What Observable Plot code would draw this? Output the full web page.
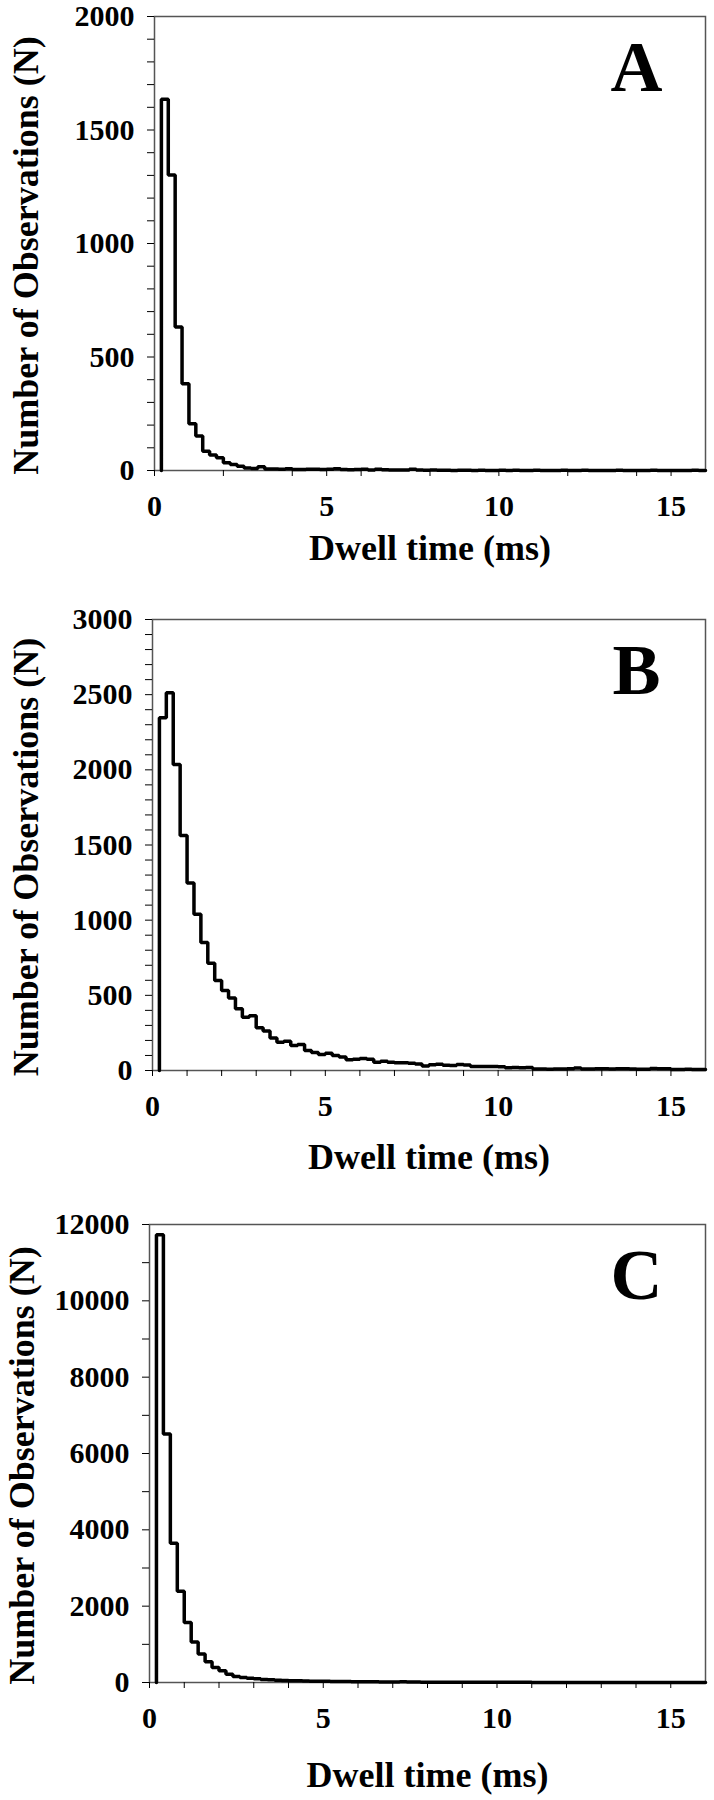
<!DOCTYPE html>
<html>
<head>
<meta charset="utf-8">
<script src="https://cdn.jsdelivr.net/npm/d3@7"></script>
<script src="https://cdn.jsdelivr.net/npm/@observablehq/plot@0.6"></script>
<style>
  body { margin: 0; background: #fff; }
  #chart svg { display: block; }
</style>
</head>
<body>
<div id="chart"></div>
<script>
// Histogram bins: 0.2 ms wide, first bin starting at 0.2 ms
const binFirst = 0.2;
const binWidth = 0.2;
const xMax = 16;

const panelLetters = ["A", "B", "C"];
const xTitle = "Dwell time (ms)";
const yTitle = "Number of Observations (N)";

const countsA = [1636,1302,632,382,206,152,85,68,56,34,
  26,19,11,9,17,7,7,6,8,4,
  4,5,5,4,5,8,4,3,4,5,
  2,5,3,2,2,2,5,2,1,2,
  1,1,0,1,1,0,1,0,0,1,
  0,1,0,0,1,0,0,0,1,0,
  0,1,0,0,0,0,1,0,0,0,
  0,1,0,0,0,0,0,1,0];

const countsB = [2346,2512,2035,1563,1248,1040,851,714,599,532,
  483,410,355,364,284,262,217,188,195,166,
  173,133,120,106,115,100,89,71,75,80,
  75,55,62,55,51,51,49,44,30,38,
  42,35,33,40,37,27,26,26,26,25,
  18,20,18,20,10,10,9,10,10,12,
  16,10,10,11,11,10,12,11,10,9,
  9,13,12,12,7,7,8,6,7];

const countsC = [11733,6513,3649,2390,1571,1060,745,545,395,306,
  218,157,131,113,96,79,70,61,52,48,
  44,39,35,32,30,28,26,24,22,20,
  18,17,16,14,13,22,11,10,9,9,
  8,8,7,7,6,6,6,5,5,5,
  4,4,4,4,3,3,3,3,3,3,
  2,2,2,2,2,2,2,2,1,1,
  1,1,1,1,1,1,1,1,1];

const yMaxes = [2000, 3000, 12000];
const yTickSteps = [100, 100, 1000];
const yLabelSteps = [500, 500, 2000];
const xTicksA = [0, 2, 4, 5, 6, 8, 10, 12, 14, 15];
const xTicksBC = [0,1,2,3,4,5,6,7,8,9,10,11,12,13,14,15];

const layouts = [
  {marginTop: 16, marginBottom: 130, marginLeft: 154, titleDy: 78, yTitleX: 26},
  {marginTop: 19, marginBottom: 130, marginLeft: 152, titleDy: 87, yTitleX: 26},
  {marginTop: 24, marginBottom: 118, marginLeft: 149, titleDy: 93, yTitleX: 22}
];

function stepPoints(counts) {
  const pts = [{t: binFirst, n: 0}];
  counts.forEach((n, i) => pts.push({t: +(binFirst + i * binWidth).toFixed(2), n}));
  pts.push({t: xMax, n: counts[counts.length - 1]});
  return pts;
}

const font = "'Liberation Serif', 'Times New Roman', Times, serif";
const allCounts = [countsA, countsB, countsC];
const container = document.getElementById("chart");

allCounts.forEach((counts, k) => {
  const L = layouts[k];
  const yTicks = d3.range(0, yMaxes[k] + 1, yTickSteps[k]);
  const xTicks = k === 0 ? xTicksA : xTicksBC;
  const plot = Plot.plot({
    width: 714,
    height: 600,
    marginTop: L.marginTop,
    marginBottom: L.marginBottom,
    marginLeft: L.marginLeft,
    marginRight: 9,
    style: {fontFamily: font, fontWeight: "bold", color: "#000", background: "#fff"},
    x: {domain: [0, xMax], label: null},
    y: {domain: [0, yMaxes[k]], label: null},
    marks: [
      Plot.frame({stroke: "#555", strokeWidth: 1.5}),
      Plot.axisY({
        ticks: yTicks, tickSize: 7, tickPadding: 13, fontSize: 30, fontWeight: "bold",
        fontFamily: font, label: null,
        tickFormat: d => (d % yLabelSteps[k] === 0 ? String(d) : "")
      }),
      Plot.axisX({
        ticks: xTicks, tickSize: 6, tickPadding: 18, fontSize: 30, fontWeight: "bold",
        fontFamily: font, label: null,
        tickFormat: d => (d % 5 === 0 ? String(d) : "")
      }),
      Plot.line(stepPoints(counts), {
        x: "t", y: "n", curve: "step-after", stroke: "#000", strokeWidth: 3.5,
        strokeLinejoin: "miter"
      }),
      Plot.text([panelLetters[k]], {
        text: d => d, frameAnchor: "top-right", dx: -69, dy: 51,
        fontSize: 72, fontWeight: "bold", fontFamily: font,
        textAnchor: "middle", lineAnchor: "middle", fill: "#000"
      }),
      Plot.text([xTitle], {
        text: d => d, frameAnchor: "bottom", dy: L.titleDy,
        fontSize: 36, fontWeight: "bold", fontFamily: font,
        textAnchor: "middle", lineAnchor: "middle", fill: "#000"
      }),
      Plot.text([yTitle], {
        text: d => d, frameAnchor: "left", dx: L.yTitleX - L.marginLeft, dy: 12,
        rotate: -90, fontSize: 36, fontWeight: "bold", fontFamily: font,
        textAnchor: "middle", lineAnchor: "middle", fill: "#000"
      })
    ]
  });
  container.appendChild(plot);
});
</script>
</body>
</html>
